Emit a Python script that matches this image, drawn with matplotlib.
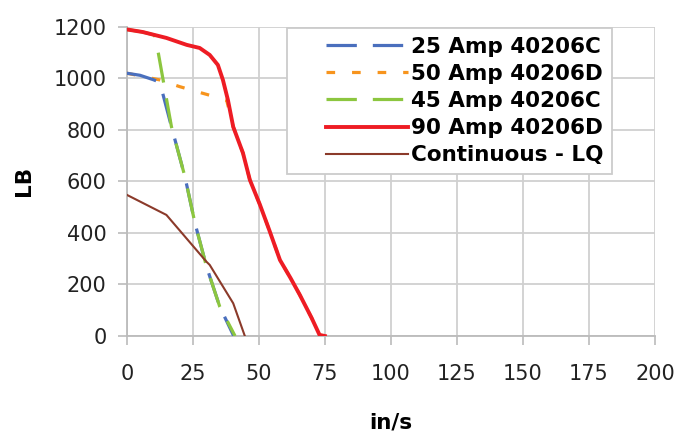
import matplotlib.pyplot as plt
from matplotlib.legend_handler import HandlerLine2D

# series (in/s, LB)
x25 = [0, 5, 10, 12.5, 16.9, 22, 25.8, 30.2, 35.2, 40.5]
y25 = [1020, 1012, 995, 985, 813, 619, 439, 269, 114, 0]
x50 = [0, 12.5, 20, 28.8, 37.8, 40.3, 44, 46.6, 50.4, 54, 58, 62, 65.5, 70, 73, 75]
y50 = [1020, 994, 968, 942, 916, 812, 710, 606, 510, 410, 295, 225, 160, 70, 4, 0]
x45 = [0, 6, 10.5, 12, 16.9, 22, 25.8, 30.2, 35.2, 41]
y45 = [1190, 1180, 1168, 1095, 813, 619, 439, 269, 114, 0]
x90 = [0, 6, 15, 22.7, 27.6, 31.4, 34.5, 36.4, 38.3, 40.3, 44, 46.6, 50.4, 54, 58, 62, 65.5, 70, 73, 75]
y90 = [1190, 1180, 1157, 1130, 1118, 1091, 1052, 994, 916, 812, 710, 606, 510, 410, 295, 225, 160, 70, 4, 0]
xlq = [0, 15, 30.2, 31.4, 40.3, 44.7]
ylq = [548, 470, 288, 276, 127, 0]

labels = ['25 Amp 40206C', '50 Amp 40206D', '45 Amp 40206C', '90 Amp 40206D', 'Continuous - LQ']

fig = plt.figure(figsize=(6.78, 4.33), dpi=100)
ax = fig.add_axes([0.187, 0.224, 0.779, 0.714])

l25, = ax.plot(x25, y25, color='#4a6fbd', lw=2.3, dashes=(9.5, 5), label=labels[0], zorder=3.5)
l50, = ax.plot(x50, y50, color='#f7941d', lw=2.3, dashes=(2.7, 5.3), label=labels[1], zorder=3)
l45, = ax.plot(x45, y45, color='#8cc63f', lw=2.3, dashes=(9.5, 5), label=labels[2], zorder=4)
l90, = ax.plot(x90, y90, color='#ee1c24', lw=2.8, label=labels[3], zorder=5)
llq, = ax.plot(xlq, ylq, color='#8b3a2a', lw=1.5, label=labels[4], zorder=6)

ax.set_xlim(0, 200)
ax.set_ylim(0, 1200)
ax.set_xticks(range(0, 201, 25))
ax.set_yticks(range(0, 1201, 200))
ax.grid(color='#d0d0d0', lw=1.3)
ax.set_axisbelow(True)
for s in ax.spines.values():
    s.set_visible(False)
for side in ['left', 'bottom']:
    ax.spines[side].set_visible(True)
    ax.spines[side].set_color('#bbbbbb')
    ax.spines[side].set_linewidth(1.3)
ax.tick_params(labelsize=15, colors='#bbbbbb', labelcolor='#222222', length=6.5, width=1.2)
ax.tick_params(axis='x', pad=14)
ax.tick_params(axis='y', pad=8)

ax.set_xlabel('in/s', fontsize=15.5, fontweight='bold', labelpad=20)
ax.set_ylabel('LB', fontsize=15.5, fontweight='bold', labelpad=14)

hmap = {h: HandlerLine2D(xpad=1.4) for h in [l25, l50, l45, l90, llq]}
leg = ax.legend([l25, l50, l45, l90, llq], labels, loc='upper left',
                bbox_to_anchor=(0.303, 0.997), borderaxespad=0,
                prop={'weight': 'bold', 'size': 15.5},
                frameon=True, fancybox=False, handlelength=5.2, labelspacing=0.33,
                borderpad=0.42, handletextpad=0.14, handler_map=hmap)
leg.get_frame().set_edgecolor('#cccccc')
leg.get_frame().set_linewidth(1.3)
leg.get_frame().set_alpha(1)

fig.savefig('out.png', dpi=100)
